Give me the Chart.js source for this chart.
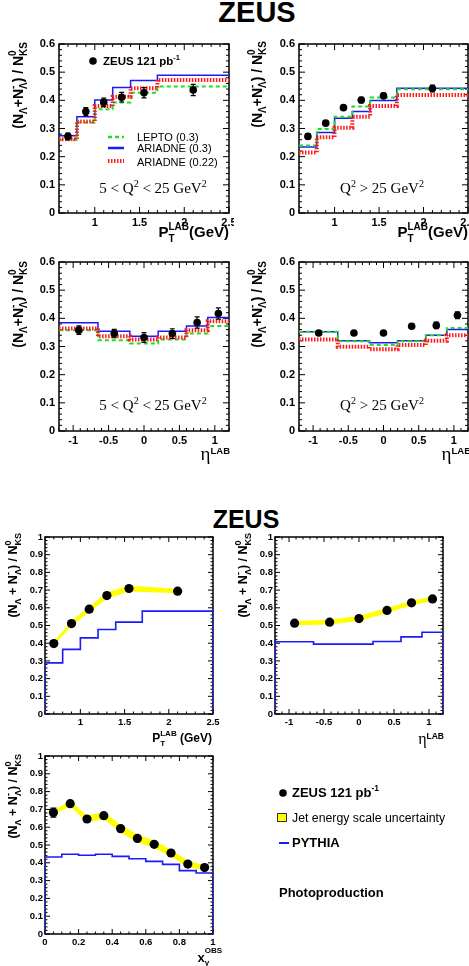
<!DOCTYPE html>
<html><head><meta charset="utf-8">
<script src="https://cdn.jsdelivr.net/npm/chart.js@4.4.0/dist/chart.umd.min.js"></script>
<style>
html,body{margin:0;padding:0;background:#fff;width:469px;height:966px;overflow:hidden;position:relative}
.w{position:absolute}
.zeus{position:absolute;font-family:"Liberation Sans",Arial,sans-serif;font-weight:bold;line-height:1;white-space:nowrap;transform:translateX(-50%);color:#000}
</style></head><body>
<div class="zeus" style="left:257px;top:-2px;font-size:29px">ZEUS</div>
<div class="zeus" style="left:246px;top:507px;font-size:25px">ZEUS</div>
<script>
// ---------------- DATA ----------------
const ptEdges  = [0.6, 0.8, 1.0, 1.2, 1.4, 1.7, 2.5];
const ptCenters = [0.7, 0.9, 1.1, 1.3, 1.55, 2.1];
const etaEdges = [-1.2, -0.65, -0.2, 0.2, 0.6, 0.9, 1.2];
const etaCenters = [-0.92, -0.42, 0.0, 0.4, 0.75, 1.05];
const xgEdges = [0, 0.1, 0.2, 0.3, 0.4, 0.5, 0.6, 0.7, 0.8, 0.9, 1.0];
const xgCenters = [0.05, 0.15, 0.25, 0.35, 0.45, 0.55, 0.65, 0.75, 0.85, 0.95];

// DIS 5<Q2<25, pT
const lowQ2PtData      = [0.272, 0.360, 0.393, 0.411, 0.427, 0.437];
const lowQ2PtErr       = [0.012, 0.014, 0.015, 0.017, 0.018, 0.020];
const lowQ2PtLepto     = [0.260, 0.321, 0.368, 0.392, 0.427, 0.449];
const lowQ2PtAriadne   = [0.274, 0.342, 0.401, 0.446, 0.470, 0.489];
const lowQ2PtAriadne22 = [0.262, 0.325, 0.380, 0.413, 0.443, 0.472];
// DIS Q2>25, pT
const highQ2PtData      = [0.272, 0.319, 0.374, 0.401, 0.416, 0.442];
const highQ2PtErr       = [0.008, 0.008, 0.008, 0.010, 0.010, 0.012];
const highQ2PtLepto     = [0.240, 0.298, 0.342, 0.378, 0.410, 0.439];
const highQ2PtAriadne   = [0.234, 0.286, 0.336, 0.360, 0.399, 0.443];
const highQ2PtAriadne22 = [0.215, 0.269, 0.303, 0.342, 0.380, 0.419];
// DIS 5<Q2<25, eta
const lowQ2EtaData      = [0.358, 0.346, 0.332, 0.346, 0.385, 0.417];
const lowQ2EtaErr       = [0.015, 0.015, 0.017, 0.017, 0.020, 0.020];
const lowQ2EtaLepto     = [0.358, 0.322, 0.311, 0.325, 0.346, 0.373];
const lowQ2EtaAriadne   = [0.384, 0.354, 0.336, 0.354, 0.373, 0.403];
const lowQ2EtaAriadne22 = [0.364, 0.336, 0.325, 0.332, 0.358, 0.390];
// DIS Q2>25, eta
const highQ2EtaData      = [0.348, 0.348, 0.348, 0.372, 0.375, 0.411];
const highQ2EtaErr       = [0.008, 0.008, 0.008, 0.008, 0.012, 0.012];
const highQ2EtaLepto     = [0.352, 0.319, 0.305, 0.319, 0.340, 0.366];
const highQ2EtaAriadne   = [0.352, 0.320, 0.313, 0.320, 0.340, 0.360];
const highQ2EtaAriadne22 = [0.325, 0.299, 0.290, 0.305, 0.320, 0.340];
// Photoproduction
const phpPtData   = [0.398, 0.511, 0.592, 0.669, 0.709, 0.694];
const phpPtErr    = [0.008, 0.008, 0.008, 0.008, 0.008, 0.008];
const phpPtJes    = [0.010, 0.014, 0.016, 0.018, 0.017, 0.012];
const phpPtPythia = [0.289, 0.365, 0.430, 0.477, 0.519, 0.581];
const phpEtaData   = [0.513, 0.519, 0.539, 0.585, 0.628, 0.650];
const phpEtaErr    = [0.006, 0.006, 0.006, 0.006, 0.008, 0.008];
const phpEtaJes    = [0.012, 0.013, 0.014, 0.014, 0.013, 0.012];
const phpEtaPythia = [0.408, 0.395, 0.395, 0.410, 0.436, 0.462];
const phpXgData   = [0.682, 0.732, 0.646, 0.665, 0.592, 0.537, 0.504, 0.455, 0.393, 0.373];
const phpXgErr    = [0.025, 0.012, 0.010, 0.010, 0.010, 0.010, 0.010, 0.010, 0.010, 0.010];
const phpXgJes    = [0.010, 0.016, 0.018, 0.020, 0.022, 0.022, 0.021, 0.020, 0.018, 0.015];
const phpXgPythia = [0.433, 0.448, 0.442, 0.448, 0.436, 0.423, 0.408, 0.391, 0.356, 0.343];

// tick values & labels
const ptTicks = [1, 1.5, 2, 2.5];           const ptTickLabels = ['1', '1.5', '2', '2.5'];
const etaTicks = [-1, -0.5, 0, 0.5, 1];     const etaTickLabels = ['-1', '-0.5', '0', '0.5', '1'];
const xgTicks = [0, 0.2, 0.4, 0.6, 0.8, 1]; const xgTickLabels = ['0', '0.2', '0.4', '0.6', '0.8', '1'];
const y06Ticks = [0, 0.1, 0.2, 0.3, 0.4, 0.5, 0.6];
const y06TickLabels = ['0', '0.1', '0.2', '0.3', '0.4', '0.5', '0.6'];
const y1Ticks = [0, 0.1, 0.2, 0.3, 0.4, 0.5, 0.6, 0.7, 0.8, 0.9, 1];
const y1TickLabels = ['0', '0.1', '0.2', '0.3', '0.4', '0.5', '0.6', '0.7', '0.8', '0.9', '1'];

// ---------------- HELPERS ----------------
const FAM = '"Liberation Sans", Arial, sans-serif';
const SER = '"Liberation Serif", "Times New Roman", serif';
const bf = px => `bold ${px}px ${FAM}`;
const nf = px => `${px}px ${FAM}`;
const sf = px => `${px}px ${SER}`;
const S = (t, f, dy = 0) => ({t, f, dy});
const ST = (...a) => ({stack: a});

function richWidth(ctx, parts) {
  let w = 0;
  for (const p of parts) {
    if (p.stack) { let m = 0; for (const q of p.stack) { ctx.font = q.f; m = Math.max(m, ctx.measureText(q.t).width); } w += m; }
    else { ctx.font = p.f; w += ctx.measureText(p.t).width; }
  }
  return w;
}
function drawRich(ctx, spec, ox, oy) {
  ctx.save();
  ctx.translate(spec.x - ox, spec.y - oy);
  if (spec.rot) ctx.rotate(spec.rot);
  const w = richWidth(ctx, spec.parts);
  let cx = spec.align === 'right' ? -w : spec.align === 'center' ? -w / 2 : 0;
  ctx.fillStyle = '#000'; ctx.textAlign = 'left'; ctx.textBaseline = 'alphabetic';
  for (const p of spec.parts) {
    if (p.stack) {
      let m = 0;
      for (const q of p.stack) { ctx.font = q.f; ctx.fillText(q.t, cx, q.dy); m = Math.max(m, ctx.measureText(q.t).width); }
      cx += m;
    } else { ctx.font = p.f; ctx.fillText(p.t, cx, p.dy); cx += ctx.measureText(p.t).width; }
  }
  ctx.restore();
}
function yTitleParts(big, small, spaced) {
  const sub = Math.round(big * 0.3), sup = -Math.round(big * 0.5);
  return [S('(N', bf(big)), S('Λ', bf(small), sub), S(spaced ? ' + N' : '+N', bf(big)),
          ST(S('-', bf(small), sup), S('Λ', bf(small), sub)), S(') / N', bf(big)),
          ST(S('0', bf(small), sup), S('KS', bf(small), sub))];
}
function ptTitleParts(big, small) {
  return [S('P', bf(big)), ST(S('LAB', bf(small), -Math.round(big * 0.48)), S('T', bf(small), Math.round(big * 0.3))), S(big > 13 ? '(GeV)' : ' (GeV)', bf(big))];
}
function etaTitleParts(big, small) {
  return [S('η', sf(big)), S('LAB', bf(small), -Math.round(big * 0.3))];
}
function q2Parts(pre, post) {
  const out = [];
  if (pre) out.push(S(pre, sf(15)));
  out.push(S('Q', sf(15)), S('2', sf(10), -6), S(post, sf(15)), S('2', sf(10), -6));
  return out;
}

function stepPoints(edges, vals, toZero) {
  const pts = [];
  if (toZero) pts.push({x: edges[0], y: 0});
  vals.forEach((v, i) => pts.push({x: edges[i], y: v}));
  pts.push({x: edges[edges.length - 1], y: vals[vals.length - 1]});
  if (toZero) pts.push({x: edges[edges.length - 1], y: 0});
  return pts;
}

const STY = {
  lepto:   {borderColor: '#22dd22', borderWidth: 2, borderDash: [4, 3]},
  ariadne: {borderColor: '#1a1aff', borderWidth: 1.5, borderDash: []},
  ari22:   {borderColor: '#ff1a1a', borderWidth: 4, borderDash: [1.5, 1.5]},
  pythia:  {borderColor: '#1a1aff', borderWidth: 1.6, borderDash: []}
};

function panel(p) {
  const wrap = document.createElement('div'); wrap.className = 'w';
  Object.assign(wrap.style, {left: p.cl + 'px', top: p.ct + 'px', width: p.cw + 'px', height: p.ch + 'px'});
  const cv = document.createElement('canvas'); wrap.appendChild(cv); document.body.appendChild(wrap);
  const yW = p.L - p.cl, pT = p.T - p.ct, pR = p.cl + p.cw - p.R, xH = p.ct + p.ch - p.B;
  const datasets = [];
  for (const s of p.steps) {
    datasets.push(Object.assign({data: stepPoints(s.edges, s.vals, s.toZero), stepped: true, pointRadius: 0,
      fill: false, borderCapStyle: 'butt', order: 3}, STY[s.style]));
  }
  if (p.band) {
    const b = p.band;
    datasets.push({data: b.x.map((x, i) => ({x, y: b.y[i] + b.h[i]})), fill: '+1', backgroundColor: '#ffff00',
      borderColor: 'rgba(0,0,0,0)', borderWidth: 0, pointRadius: 0, order: 2});
    datasets.push({data: b.x.map((x, i) => ({x, y: b.y[i] - b.h[i]})), fill: false,
      borderColor: 'rgba(0,0,0,0)', borderWidth: 0, pointRadius: 0, order: 2});
  }
  const pd = p.pts;
  datasets.push({data: pd.x.map((x, i) => ({x, y: pd.y[i]})), showLine: false, pointRadius: p.r,
    pointBackgroundColor: '#000', pointBorderColor: '#000', pointBorderWidth: 0, order: 0});

  const tickFont = {family: 'Liberation Sans', size: p.tf, weight: 'bold'};
  const deco = {
    id: 'deco',
    beforeDatasetsDraw(chart) {
      const {ctx, chartArea: a, scales: {x, y}} = chart;
      ctx.save();
      // frame
      ctx.lineWidth = p.fw; ctx.strokeStyle = '#000';
      ctx.strokeRect(a.left, a.top, a.right - a.left, a.bottom - a.top);
      // ticks inside on all sides
      ctx.lineWidth = 1;
      const along = (scale, step, major, len) => {
        const n0 = Math.ceil(scale.min / step - 1e-6), n1 = Math.floor(scale.max / step + 1e-6);
        for (let n = n0; n <= n1; n++) {
          const v = n * step;
          const isMaj = major.some(m => Math.abs(m - v) < 1e-6);
          const L = isMaj ? len[0] : len[1];
          const px = scale.getPixelForValue(v);
          ctx.beginPath();
          if (scale.isHorizontal()) {
            ctx.moveTo(px, a.bottom); ctx.lineTo(px, a.bottom - L);
            ctx.moveTo(px, a.top); ctx.lineTo(px, a.top + L);
          } else {
            ctx.moveTo(a.left, px); ctx.lineTo(a.left + L, px);
            ctx.moveTo(a.right, px); ctx.lineTo(a.right - L, px);
          }
          ctx.stroke();
        }
      };
      along(x, p.xminor, p.xt, p.tl);
      along(y, p.yminor, p.yt, p.tl);
      ctx.restore();
    },
    afterDatasetsDraw(chart) {
      const {ctx, scales: {x, y}} = chart;
      ctx.save();
      ctx.strokeStyle = '#000'; ctx.lineWidth = 1.2;
      pd.x.forEach((xv, i) => {
        const px = x.getPixelForValue(xv), y1 = y.getPixelForValue(pd.y[i] - pd.e[i]), y2 = y.getPixelForValue(pd.y[i] + pd.e[i]);
        ctx.beginPath(); ctx.moveTo(px, y1); ctx.lineTo(px, y2);
        ctx.moveTo(px - p.cap, y1); ctx.lineTo(px + p.cap, y1);
        ctx.moveTo(px - p.cap, y2); ctx.lineTo(px + p.cap, y2); ctx.stroke();
      });
      ctx.restore();
    },
    afterDraw(chart) {
      const ctx = chart.ctx;
      for (const t of p.texts) drawRich(ctx, t, p.cl, p.ct);
      if (p.legend) p.legend(ctx, p.cl, p.ct);
    }
  };

  new Chart(cv, {
    type: 'line',
    data: {datasets},
    options: {
      responsive: true, maintainAspectRatio: false, animation: false, devicePixelRatio: 1,
      layout: {padding: {top: pT, right: pR, left: 0, bottom: 0}},
      plugins: {legend: {display: false}, tooltip: {enabled: false}, title: {display: false}},
      elements: {line: {tension: 0}},
      scales: {
        x: {type: 'linear', min: p.xmin, max: p.xmax,
          afterBuildTicks: s => { s.ticks = p.xt.map(v => ({value: v})); },
          afterFit: s => { s.height = xH; s.paddingLeft = 0; s.paddingRight = 0; },
          grid: {display: false, drawTicks: false}, border: {display: false},
          ticks: {autoSkip: false, maxRotation: 0, minRotation: 0, padding: p.xpad, color: '#000', font: tickFont,
            callback: (v, i) => p.xl[i]}},
        y: {type: 'linear', min: 0, max: p.ymax,
          afterBuildTicks: s => { s.ticks = p.yt.map(v => ({value: v})); },
          afterFit: s => { s.width = yW; s.paddingTop = 0; s.paddingBottom = 0; },
          grid: {display: false, drawTicks: false}, border: {display: false},
          ticks: {autoSkip: false, padding: p.ypad, color: '#000', font: tickFont, callback: (v, i) => p.yl[i]}}
      }
    },
    plugins: [deco]
  });
}

const ROT = -Math.PI / 2;
const topCommon = {ymax: 0.6, yt: y06Ticks, yl: y06TickLabels, yminor: 0.02, tf: 11, xpad: 3, ypad: 4, r: 3.8, cap: 2.5, fw: 1.5, tl: [6, 3]};
const botCommon = {ymax: 1, yt: y1Ticks, yl: y1TickLabels, yminor: 0.02, tf: 9.5, xpad: 3, ypad: 2, r: 4.6, cap: 3, fw: 1.5, tl: [5, 2.5]};
const ptAx = {xmin: 0.6, xmax: 2.5, xt: ptTicks, xl: ptTickLabels, xminor: 0.1};
const etaAx = {xmin: -1.2, xmax: 1.2, xt: etaTicks, xl: etaTickLabels, xminor: 0.1};
const xgAx = {xmin: 0, xmax: 1, xt: xgTicks, xl: xgTickLabels, xminor: 0.05};

function disSteps(edges, lepto, ari, ari22) {
  return [{edges, vals: ari22, style: 'ari22'}, {edges, vals: lepto, style: 'lepto'}, {edges, vals: ari, style: 'ariadne'}];
}

// Panel 1
panel(Object.assign({}, topCommon, ptAx, {
  cl: 0, ct: 28, cw: 234, ch: 222, L: 59, T: 44, R: 229, B: 213,
  steps: disSteps(ptEdges, lowQ2PtLepto, lowQ2PtAriadne, lowQ2PtAriadne22),
  pts: {x: ptCenters, y: lowQ2PtData, e: lowQ2PtErr},
  texts: [
    {parts: yTitleParts(14, 10, false), x: 23, y: 42, align: 'right', rot: ROT},
    {parts: ptTitleParts(15, 10), x: 229, y: 237, align: 'right'},
    {parts: q2Parts('5 < ', ' < 25 GeV'), x: 153, y: 193, align: 'center'},
    {parts: [S('ZEUS 121 pb', bf(11.5)), S('-1', bf(7.5), -5)], x: 103, y: 65, align: 'left'},
    {parts: [S('LEPTO (0.3)', nf(11))], x: 137, y: 141, align: 'left'},
    {parts: [S('ARIADNE (0.3)', nf(11))], x: 137, y: 152, align: 'left'},
    {parts: [S('ARIADNE (0.22)', nf(11))], x: 137, y: 166, align: 'left'}
  ],
  legend(ctx, ox, oy) {
    ctx.save();
    ctx.fillStyle = '#000'; ctx.beginPath(); ctx.arc(93 - ox, 61 - oy, 3.8, 0, Math.PI * 2); ctx.fill();
    const seg = (y, st, w) => { ctx.beginPath(); ctx.strokeStyle = st.borderColor; ctx.lineWidth = w; ctx.setLineDash(st.borderDash);
      ctx.moveTo(108 - ox, y - oy); ctx.lineTo(124 - ox, y - oy); ctx.stroke(); };
    seg(137, STY.lepto, 2.5); seg(148, STY.ariadne, 2.5); seg(161, STY.ari22, 4);
    ctx.restore();
  }
}));
// Panel 2
panel(Object.assign({}, topCommon, ptAx, {
  cl: 234, ct: 28, cw: 240, ch: 222, L: 299, T: 44, R: 468, B: 213,
  steps: disSteps(ptEdges, highQ2PtLepto, highQ2PtAriadne, highQ2PtAriadne22),
  pts: {x: ptCenters, y: highQ2PtData, e: highQ2PtErr},
  texts: [
    {parts: yTitleParts(14, 10, false), x: 262, y: 41, align: 'right', rot: ROT},
    {parts: ptTitleParts(15, 10), x: 468, y: 237, align: 'right'},
    {parts: q2Parts('', ' > 25 GeV'), x: 382, y: 193, align: 'center'}
  ]
}));
// Panel 3
panel(Object.assign({}, topCommon, etaAx, {
  cl: 0, ct: 250, cw: 234, ch: 225, L: 59, T: 262, R: 229, B: 431,
  steps: disSteps(etaEdges, lowQ2EtaLepto, lowQ2EtaAriadne, lowQ2EtaAriadne22),
  pts: {x: etaCenters, y: lowQ2EtaData, e: lowQ2EtaErr},
  texts: [
    {parts: yTitleParts(14, 10, false), x: 23, y: 261, align: 'right', rot: ROT},
    {parts: etaTitleParts(19, 9.5), x: 230, y: 460, align: 'right'},
    {parts: q2Parts('5 < ', ' < 25 GeV'), x: 153, y: 410, align: 'center'}
  ]
}));
// Panel 4
panel(Object.assign({}, topCommon, etaAx, {
  cl: 234, ct: 250, cw: 240, ch: 225, L: 299, T: 262, R: 468, B: 431,
  steps: disSteps(etaEdges, highQ2EtaLepto, highQ2EtaAriadne, highQ2EtaAriadne22),
  pts: {x: etaCenters, y: highQ2EtaData, e: highQ2EtaErr},
  texts: [
    {parts: yTitleParts(14, 10, false), x: 262, y: 261, align: 'right', rot: ROT},
    {parts: etaTitleParts(19, 9.5), x: 471, y: 460, align: 'right'},
    {parts: q2Parts('', ' > 25 GeV'), x: 382, y: 410, align: 'center'}
  ]
}));
// Panel 5
panel(Object.assign({}, botCommon, ptAx, {
  cl: 0, ct: 528, cw: 230, ch: 224, L: 45, T: 537, R: 213, B: 714,
  steps: [{edges: ptEdges, vals: phpPtPythia, style: 'pythia', toZero: true}],
  band: {x: ptCenters, y: phpPtData, h: phpPtJes},
  pts: {x: ptCenters, y: phpPtData, e: phpPtErr},
  texts: [
    {parts: yTitleParts(12.5, 9, true), x: 17, y: 533, align: 'right', rot: ROT},
    {parts: ptTitleParts(12, 8), x: 212, y: 742, align: 'right'}
  ]
}));
// Panel 6
panel(Object.assign({}, botCommon, etaAx, {
  cl: 230, ct: 528, cw: 239, ch: 224, L: 275, T: 537, R: 443, B: 714,
  steps: [{edges: etaEdges, vals: phpEtaPythia, style: 'pythia', toZero: true}],
  band: {x: etaCenters, y: phpEtaData, h: phpEtaJes},
  pts: {x: etaCenters, y: phpEtaData, e: phpEtaErr},
  texts: [
    {parts: yTitleParts(12.5, 9, true), x: 247, y: 533, align: 'right', rot: ROT},
    {parts: etaTitleParts(16, 8.5), x: 444, y: 744, align: 'right'}
  ]
}));
// Panel 7 (+ legend)
panel(Object.assign({}, botCommon, xgAx, {
  cl: 0, ct: 745, cw: 469, ch: 221, L: 45, T: 756, R: 213, B: 934,
  steps: [{edges: xgEdges, vals: phpXgPythia, style: 'pythia', toZero: true}],
  band: {x: xgCenters, y: phpXgData, h: phpXgJes},
  pts: {x: xgCenters, y: phpXgData, e: phpXgErr},
  texts: [
    {parts: yTitleParts(12.5, 9, true), x: 17, y: 754, align: 'right', rot: ROT},
    {parts: [S('x', bf(13)), ST(S('OBS', bf(8), -9), S('γ', bf(8), 3))], x: 222, y: 962, align: 'right'},
    {parts: [S('ZEUS 121 pb', bf(13)), S('-1', bf(8.5), -6)], x: 292, y: 797, align: 'left'},
    {parts: [S('Jet energy scale uncertainty', nf(12.3))], x: 292, y: 822, align: 'left'},
    {parts: [S('PYTHIA', bf(13))], x: 292, y: 847, align: 'left'},
    {parts: [S('Photoproduction', bf(13))], x: 279, y: 897, align: 'left'}
  ],
  legend(ctx, ox, oy) {
    ctx.save();
    ctx.fillStyle = '#000'; ctx.beginPath(); ctx.arc(283 - ox, 793 - oy, 3.8, 0, Math.PI * 2); ctx.fill();
    ctx.fillStyle = '#ffff00'; ctx.fillRect(277 - ox, 813 - oy, 10, 9);
    ctx.strokeStyle = '#333'; ctx.lineWidth = 1; ctx.strokeRect(277.5 - ox, 813.5 - oy, 9, 8);
    ctx.strokeStyle = STY.pythia.borderColor; ctx.lineWidth = 2;
    ctx.beginPath(); ctx.moveTo(279 - ox, 843 - oy); ctx.lineTo(289 - ox, 843 - oy); ctx.stroke();
    ctx.restore();
  }
}));
</script>
</body></html>
